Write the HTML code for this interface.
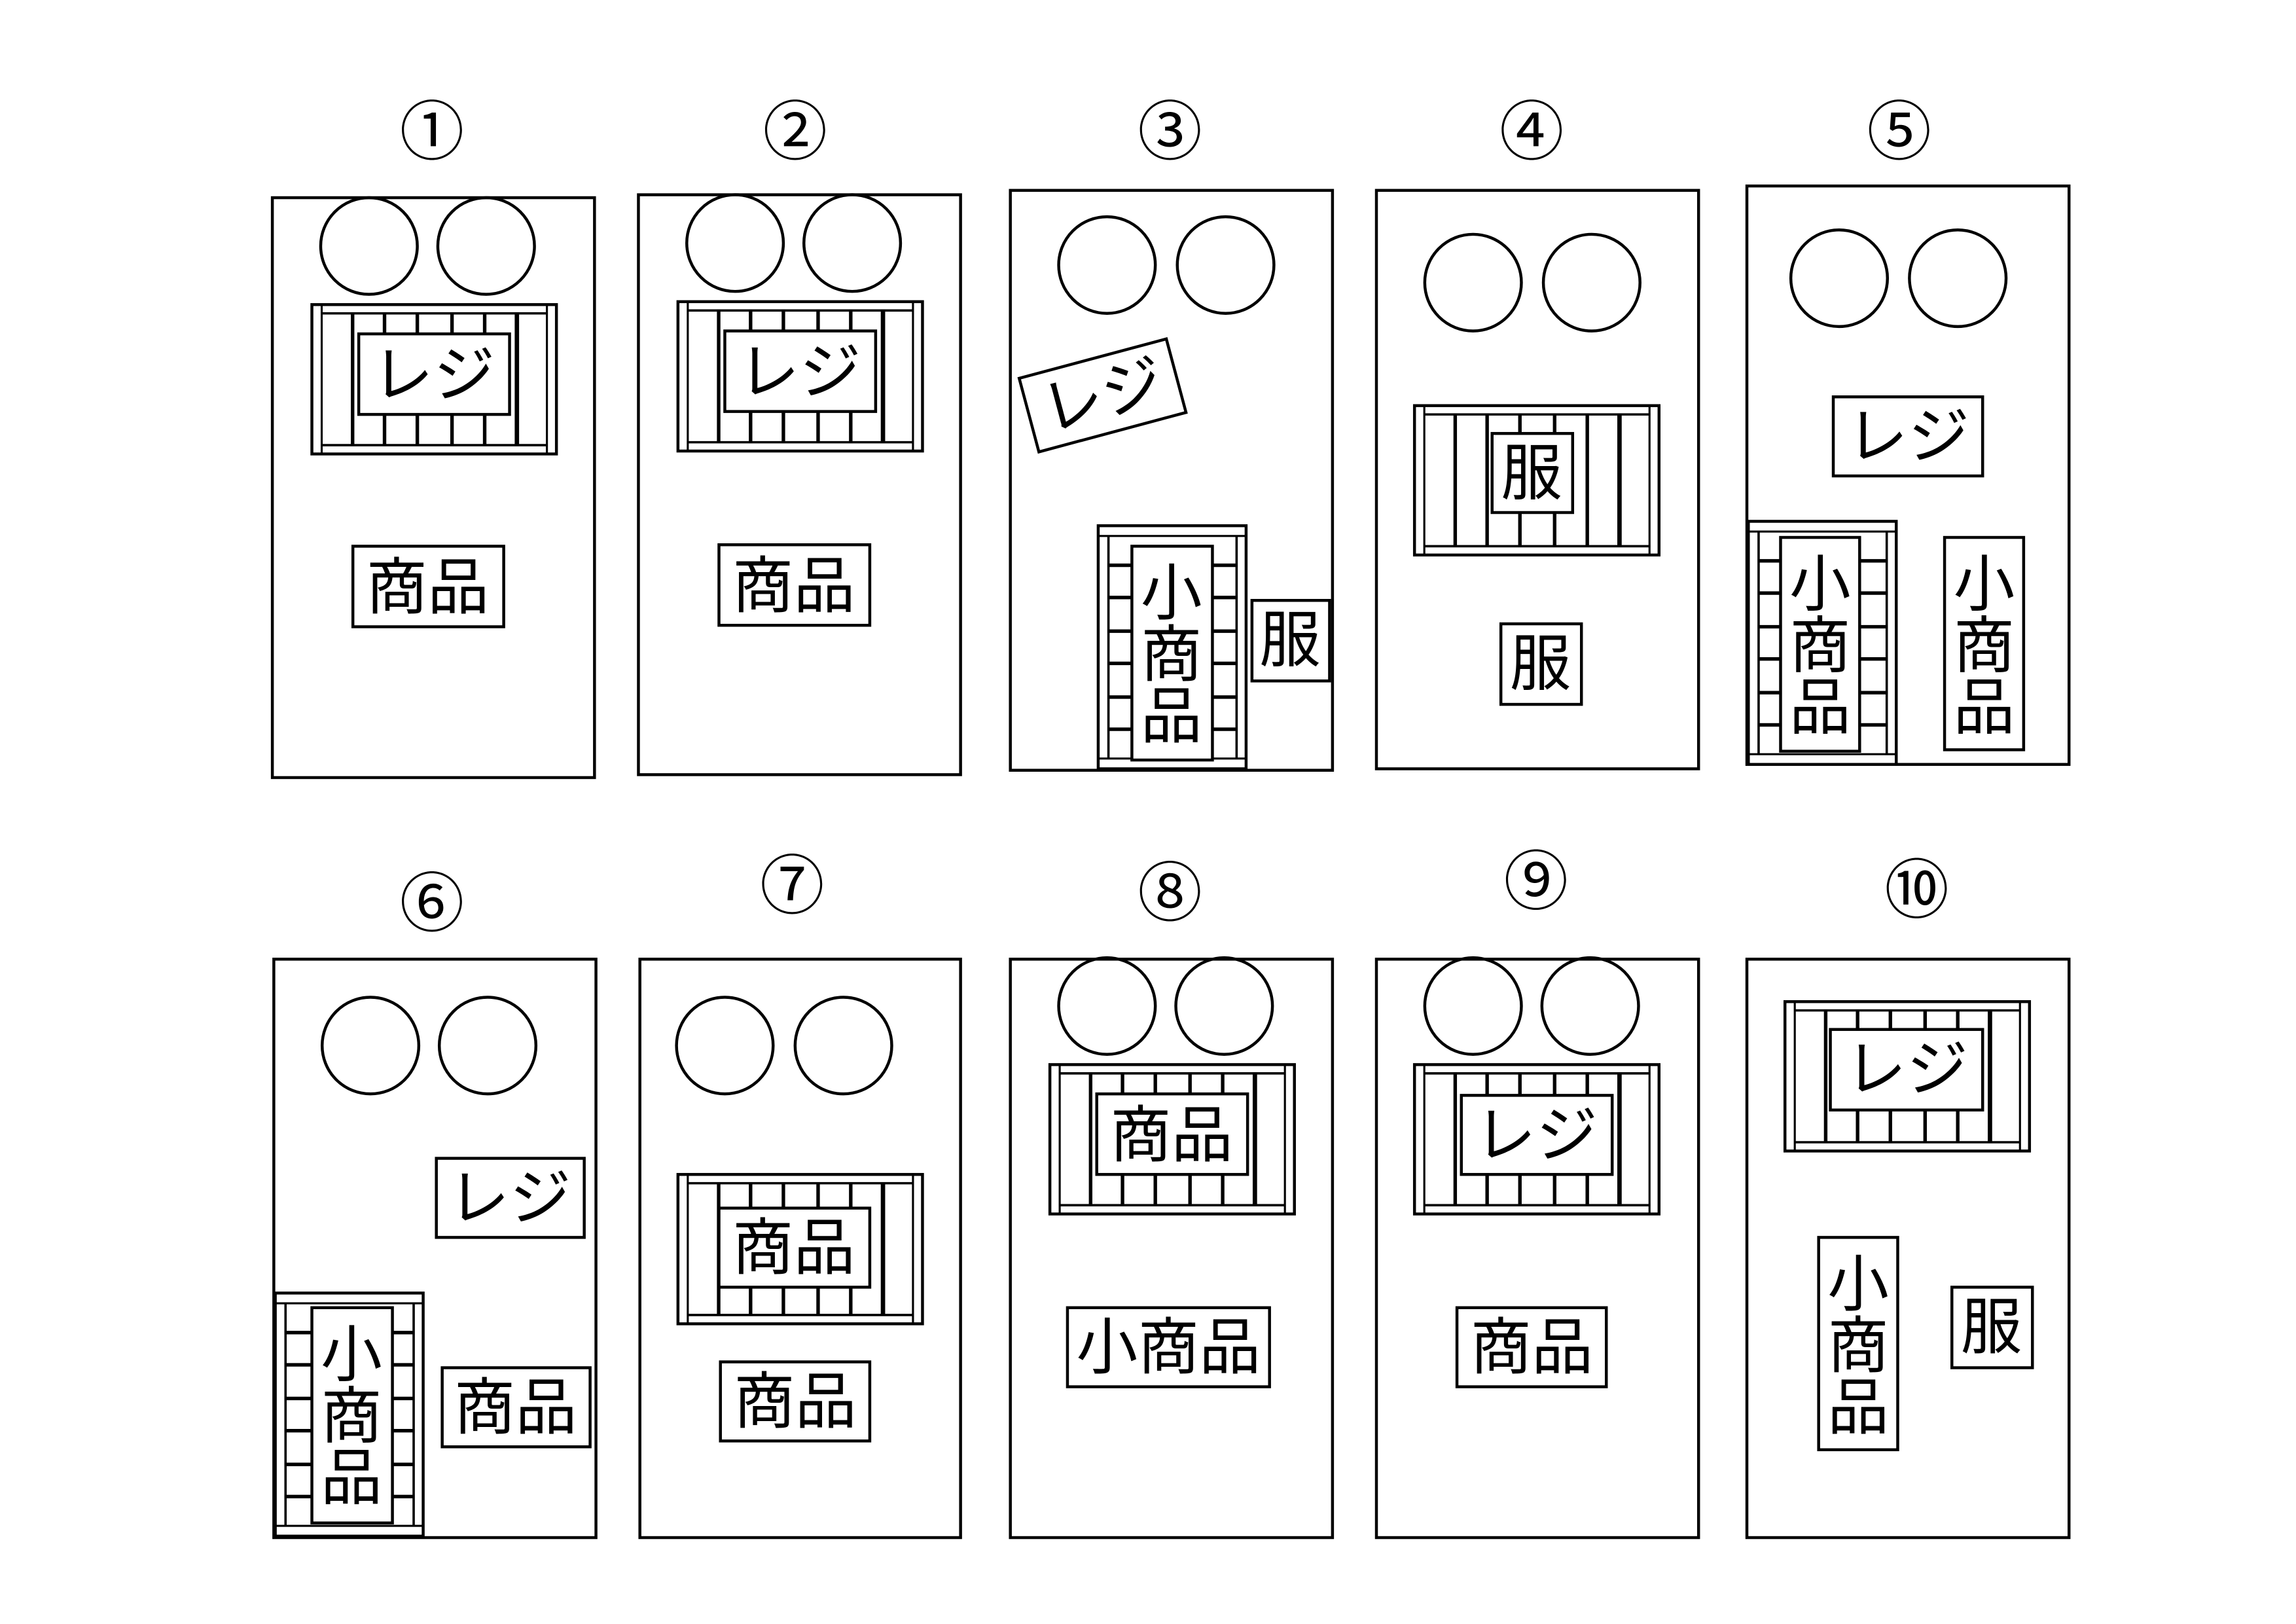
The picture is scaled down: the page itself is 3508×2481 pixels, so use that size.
<!DOCTYPE html>
<html><head><meta charset="utf-8"><style>
html,body{margin:0;padding:0;background:#fff;}
svg{display:block;}
text{font-family:"Liberation Sans","Noto Sans CJK JP",sans-serif;fill:#000;text-anchor:middle;dominant-baseline:central;}
</style></head><body>
<svg width="3508" height="2481" viewBox="0 0 1568 1109" preserveAspectRatio="none" xmlns="http://www.w3.org/2000/svg">
<defs>
<g id="hg" fill="none" stroke="#000">
<rect x="0" y="0" width="167" height="102" stroke-width="2" fill="#fff"/>
<line x1="6.7" y1="0" x2="6.7" y2="102" stroke-width="1.4"/>
<line x1="160.5" y1="0" x2="160.5" y2="102" stroke-width="1.4"/>
<line x1="6.7" y1="6" x2="160.5" y2="6" stroke-width="1.6"/>
<line x1="6.7" y1="96" x2="160.5" y2="96" stroke-width="1.6"/>
<g stroke-width="2.4">
<line x1="27.8" y1="6" x2="27.8" y2="96"/><line x1="49.6" y1="6" x2="49.6" y2="96"/>
<line x1="72" y1="6" x2="72" y2="96"/><line x1="95.7" y1="6" x2="95.7" y2="96"/>
<line x1="118" y1="6" x2="118" y2="96"/><line x1="140" y1="6" x2="140" y2="96" stroke-width="3"/>
</g>
</g>
<g id="vg" fill="none" stroke="#000">
<rect x="0" y="0" width="101" height="166" stroke-width="2" fill="#fff"/>
<line x1="0" y1="7" x2="101" y2="7" stroke-width="1.4"/>
<line x1="0" y1="159" x2="101" y2="159" stroke-width="1.4"/>
<line x1="7" y1="7" x2="7" y2="159" stroke-width="1.6"/>
<line x1="94.5" y1="7" x2="94.5" y2="159" stroke-width="1.6"/>
<g stroke-width="2.4">
<line x1="7" y1="27" x2="94.5" y2="27"/><line x1="7" y1="49" x2="94.5" y2="49"/>
<line x1="7" y1="72" x2="94.5" y2="72"/><line x1="7" y1="94" x2="94.5" y2="94"/>
<line x1="7" y1="117" x2="94.5" y2="117"/><line x1="7" y1="139" x2="94.5" y2="139"/>
</g>
</g>
</defs>
<g fill="none" stroke="#000" stroke-width="2">
<!-- panels -->
<rect x="186" y="135" width="220" height="396"/>
<rect x="436" y="133" width="220" height="396"/>
<rect x="690" y="130" width="220" height="396"/>
<rect x="940" y="130" width="220" height="395"/>
<rect x="1193" y="127" width="220" height="395"/>
<rect x="187" y="655" width="220" height="395"/>
<rect x="437" y="655" width="219" height="395"/>
<rect x="690" y="655" width="220" height="395"/>
<rect x="940" y="655" width="220" height="395"/>
<rect x="1193" y="655" width="220" height="395"/>
<!-- circles -->
<circle cx="252" cy="168" r="33"/><circle cx="332" cy="168" r="33"/>
<circle cx="502" cy="166" r="33"/><circle cx="582" cy="166" r="33"/>
<circle cx="756" cy="181" r="33"/><circle cx="837" cy="181" r="33"/>
<circle cx="1006" cy="193" r="33"/><circle cx="1087" cy="193" r="33"/>
<circle cx="1256" cy="190" r="33"/><circle cx="1337" cy="190" r="33"/>
<circle cx="253" cy="714" r="33"/><circle cx="333" cy="714" r="33"/>
<circle cx="495" cy="714" r="33"/><circle cx="576" cy="714" r="33"/>
<circle cx="756" cy="687" r="33"/><circle cx="836" cy="687" r="33"/>
<circle cx="1006" cy="687" r="33"/><circle cx="1086" cy="687" r="33"/>
</g>
<!-- grills -->
<use href="#hg" x="213" y="208"/>
<use href="#hg" x="463" y="206"/>
<use href="#vg" x="750" y="359"/>
<use href="#hg" x="966" y="277"/>
<use href="#vg" x="1194" y="356"/>
<use href="#vg" x="188" y="883"/>
<use href="#hg" x="463" y="802"/>
<use href="#hg" x="717" y="727"/>
<use href="#hg" x="966" y="727"/>
<use href="#hg" x="1219" y="684"/>
<!-- label boxes -->
<g fill="#fff" stroke="#000" stroke-width="2">
<rect x="245" y="228" width="103" height="55"/>
<rect x="241" y="373" width="103" height="55"/>
<rect x="495" y="226" width="103" height="55"/>
<rect x="491" y="372" width="103" height="55"/>
<rect x="701" y="244" width="104" height="52" transform="rotate(-15 753 270)"/>
<rect x="773" y="373" width="55" height="146"/>
<rect x="855" y="410" width="53" height="55"/>
<rect x="1019" y="296" width="55" height="54"/>
<rect x="1025" y="426" width="55" height="55"/>
<rect x="1252" y="271" width="102" height="54"/>
<rect x="1216" y="367" width="54" height="146"/>
<rect x="1328" y="367" width="54" height="145"/>
<rect x="298" y="791" width="101" height="54"/>
<rect x="213" y="893" width="55" height="147"/>
<rect x="302" y="934" width="101" height="54"/>
<rect x="491" y="825" width="103" height="54"/>
<rect x="492" y="930" width="102" height="54"/>
<rect x="749" y="747" width="103" height="55"/>
<rect x="729" y="893" width="138" height="54"/>
<rect x="998" y="748" width="103" height="54"/>
<rect x="995" y="893" width="102" height="54"/>
<rect x="1250" y="703" width="104" height="55"/>
<rect x="1242" y="845" width="54" height="145"/>
<rect x="1333" y="879" width="55" height="55"/>
</g>
<!-- numbers -->
<g font-size="44">
<text x="295" y="90">①</text><text x="543" y="90">②</text><text x="799" y="90">③</text><text x="1046" y="90">④</text><text x="1297" y="90">⑤</text>
<text x="295" y="617">⑥</text><text x="541" y="605">⑦</text><text x="799" y="610">⑧</text><text x="1049" y="602">⑨</text><text x="1309" y="608">⑩</text>
</g>
<!-- labels -->
<g font-size="42">
<text x="296" y="256">レジ</text>
<text x="292" y="401">商品</text>
<text x="546" y="254">レジ</text>
<text x="542" y="400">商品</text>
<text x="753" y="270" transform="rotate(-15 753 270)">レジ</text>
<text x="800" y="405">小</text><text x="800" y="447">商</text><text x="800" y="489">品</text>
<text x="881" y="437">服</text>
<text x="1046" y="323">服</text>
<text x="1052" y="453">服</text>
<text x="1303" y="298">レジ</text>
<text x="1243" y="399">小</text><text x="1243" y="441">商</text><text x="1243" y="483">品</text>
<text x="1355" y="399">小</text><text x="1355" y="441">商</text><text x="1355" y="483">品</text>
<text x="348" y="818">レジ</text>
<text x="240" y="925">小</text><text x="240" y="967">商</text><text x="240" y="1009">品</text>
<text x="352" y="961">商品</text>
<text x="542" y="852">商品</text>
<text x="543" y="957">商品</text>
<text x="800" y="775">商品</text>
<text x="798" y="920">小商品</text>
<text x="1049" y="775">レジ</text>
<text x="1046" y="920">商品</text>
<text x="1302" y="730">レジ</text>
<text x="1269" y="877">小</text><text x="1269" y="919">商</text><text x="1269" y="961">品</text>
<text x="1360" y="906">服</text>
</g>
</svg>
</body></html>
